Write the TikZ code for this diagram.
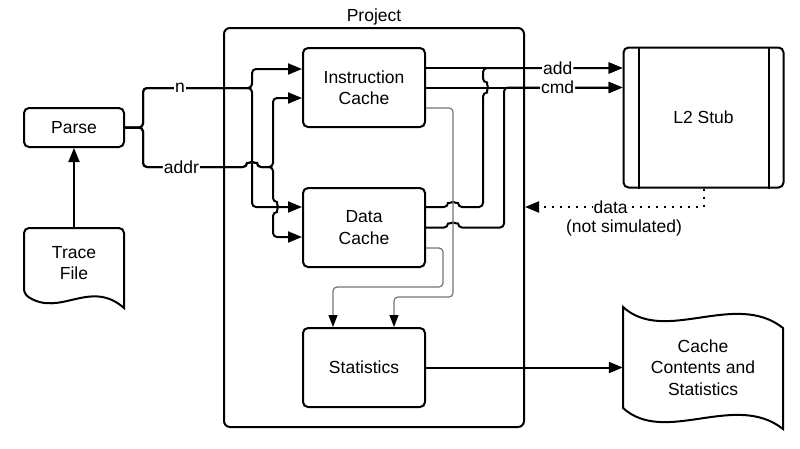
\documentclass[tikz,border=0pt]{standalone}
\usepackage{fontspec}
\setmainfont{Liberation Sans}
\usepackage{tikz}
\usetikzlibrary{arrows.meta}
\usetikzlibrary{positioning}

\begin{document}
\begin{tikzpicture}
[x=1pt,y=-1pt,font=\fontsize{17.5}{21.5}\selectfont,
 bx/.style={draw=black,line width=2pt,rounded corners=5pt,align=center,
   minimum width=122pt,minimum height=79pt,inner sep=0pt},
 be/.style={draw=black,line width=2pt,rounded corners=4pt,arrows={-Triangle[length=14pt,width=11pt]}},
 bg/.style={draw=black!55,line width=1.2pt,rounded corners=4pt,arrows={-Triangle[length=12pt,width=9pt,color=black]}},
 bd/.style={draw=black,line width=2pt,dash pattern=on 2pt off 6pt,arrows={-Triangle[length=14pt,width=11pt]}},
 lb/.style={fill=white,inner sep=1pt}]
\useasboundingbox (0,0) rectangle (800,448);

\node[draw,line width=2pt,rounded corners=6pt,minimum width=300pt,minimum height=399pt] (pj) at (374,227.5) {};
\node[above=1pt of pj,inner sep=1pt] (pjl) {Project};

\node[bx] (ic) at (364,87.5) {Instruction\\Cache};
\node[bx] (dc) at (364,227.5) {Data\\Cache};
\node[bx] (st) at (364,367.5) {Statistics};
\node[bx,minimum width=100pt,minimum height=39pt] (ps) at (74,127.5) {Parse};
\node[bx,minimum width=160pt,minimum height=140pt] (l2) at (703.5,117.5) {L2 Stub};
\draw[line width=2pt] ([xshift=16pt]l2.north west) -- ([xshift=16pt]l2.south west);
\draw[line width=2pt] ([xshift=-16pt]l2.north east) -- ([xshift=-16pt]l2.south east);

\node[align=center,minimum width=100pt,minimum height=70pt] (tf) at (74,263) {Trace\\File};
\draw[line width=2pt] (24,294) .. controls (60,318) and (90,278) .. (124,308)
  [rounded corners=5pt] -- (124,228) -- (24,228) -- cycle;
\node[align=center,minimum width=160pt,minimum height=101pt] (cc) at (703,367.5) {Cache\\Contents and\\Statistics};
\draw[line width=2pt] (623,307) .. controls (665,345) and (735,290) .. (783,328) -- (783,429)
  .. controls (735,391) and (665,446) .. (623,408) -- cycle;

\coordinate (N) at (252,88);
\coordinate (A) at (273,167);

\draw[be] (tf.north) -- (ps.south);
\draw[be] (ps.east) -| (143,88) -- (N) |- ([yshift=18.5pt]ic.west);
\draw[be] (ps.east) -| (143,88) -- node[lb,pos=0.34]{n} (N) |- ([yshift=20.5pt]dc.west);
\draw[be] (ps.east) -| (143,167) -- (247,167)
  arc[start angle=180,end angle=360,radius=5] -- (A) |- ([yshift=-10.5pt]ic.west);
\draw[be] (ps.east) -| (143,167) -- node[lb,pos=0.37]{addr} (247,167) arc[start angle=180,end angle=360,radius=5]
  -- (A) -- (273,202) arc[start angle=-90,end angle=90,radius=5] |- ([yshift=-9.5pt]dc.west);

\draw[be] ([yshift=20.5pt]dc.east) -- (448,207) arc[start angle=180,end angle=360,radius=5]
  -- (483,207) -- (483,92.5) arc[start angle=90,end angle=-90,radius=5] |- ([yshift=49.5pt]l2.west);
\draw[be] (dc.east) -- (448,227.5) arc[start angle=180,end angle=360,radius=5]
  -- (504,227.5) |- ([yshift=30pt]l2.west);
\draw[be] ([yshift=19.5pt]ic.east) -- node[lb,pos=0.67]{add} ([yshift=49.5pt]l2.west);
\draw[be] (ic.east) -- node[lb,pos=0.67]{cmd} ([yshift=30pt]l2.west);

\draw[bg] ([yshift=-20.5pt]ic.east) -| (453,297) -| ([xshift=30pt]st.north);
\draw[bg] ([yshift=-20.5pt]dc.east) -| (443,287) -| ([xshift=-31pt]st.north);

\draw[bd] (l2.south) |- node[lb,pos=0.76] (dt) {data} ([yshift=20.5pt]pj.east);
\node[inner sep=1pt] (ns) at (624,228) {(not simulated)};

\draw[be] (st.east) -- (cc.west);

\end{tikzpicture}
\end{document}
